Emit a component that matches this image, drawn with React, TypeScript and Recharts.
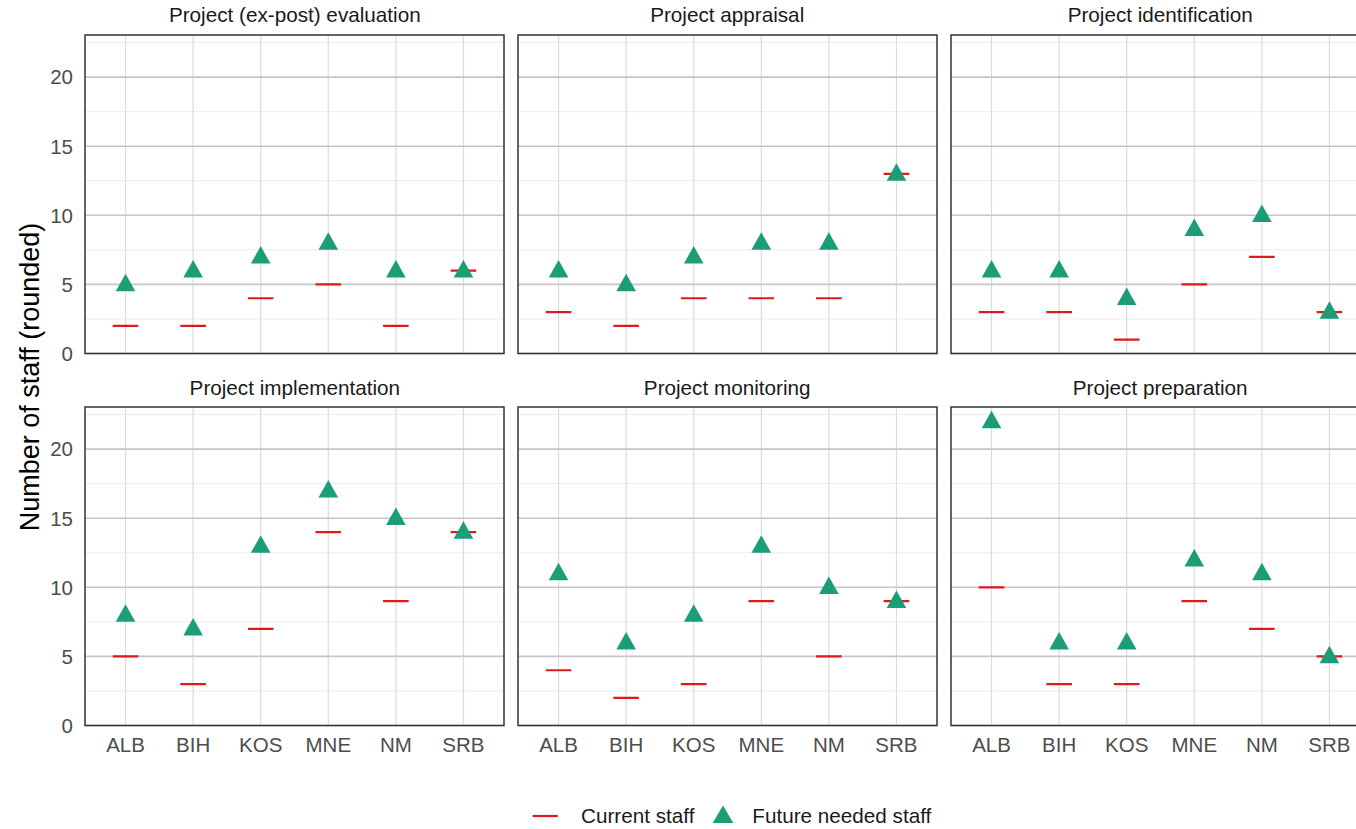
import { ScatterChart, Scatter, XAxis, YAxis, CartesianGrid, ReferenceArea } from "recharts";

const COUNTRIES = ["ALB", "BIH", "KOS", "MNE", "NM", "SRB"];
const Y_TICKS = [0, 5, 10, 15, 20];
const Y_MINOR = [2.5, 7.5, 12.5, 17.5, 22.5];

const evaluationCurrent = [2, 2, 4, 5, 2, 6];
const evaluationFuture = [5, 6, 7, 8, 6, 6];
const appraisalCurrent = [3, 2, 4, 4, 4, 13];
const appraisalFuture = [6, 5, 7, 8, 8, 13];
const identificationCurrent = [3, 3, 1, 5, 7, 3];
const identificationFuture = [6, 6, 4, 9, 10, 3];
const implementationCurrent = [5, 3, 7, 14, 9, 14];
const implementationFuture = [8, 7, 13, 17, 15, 14];
const monitoringCurrent = [4, 2, 3, 9, 5, 9];
const monitoringFuture = [11, 6, 8, 13, 10, 9];
const preparationCurrent = [10, 3, 3, 9, 7, 5];
const preparationFuture = [22, 6, 6, 12, 11, 5];

const PANELS = [
  { title: "Project (ex-post) evaluation", current: evaluationCurrent, future: evaluationFuture },
  { title: "Project appraisal", current: appraisalCurrent, future: appraisalFuture },
  { title: "Project identification", current: identificationCurrent, future: identificationFuture },
  { title: "Project implementation", current: implementationCurrent, future: implementationFuture },
  { title: "Project monitoring", current: monitoringCurrent, future: monitoringFuture },
  { title: "Project preparation", current: preparationCurrent, future: preparationFuture },
];

const RED = "#e0191c";
const GREEN = "#1b9e77";
const FONT = '"Liberation Sans", Arial, Helvetica, sans-serif';

const COL_LEFT = [85.3, 517.7, 950.7];
const ROW_TOP = [35, 407.3];
const PLOT_W = 419;
const PLOT_H = 318.5;
const Y_AXIS_W = 60;
const X_AXIS_H = 40;
const M_TOP = 10;
const M_RIGHT = 10;

const toPoints = (vals: number[]) => vals.map((v, i) => ({ x: i + 1, y: v }));

const Dash = (p: any) => (
  <line x1={p.cx - 12.8} x2={p.cx + 12.8} y1={p.cy} y2={p.cy} stroke={RED} strokeWidth={2.2} />
);

const Triangle = (p: any) => {
  const { cx, cy } = p;
  return (
    <polygon
      points={`${cx},${cy - 10.7} ${cx - 9.8},${cy + 6.8} ${cx + 9.8},${cy + 6.8}`}
      fill={GREEN}
    />
  );
};

const NoTick = () => <g />;

function Panel({ idx }: { idx: number }) {
  const panel = PANELS[idx];
  const col = idx % 3;
  const row = Math.floor(idx / 3);
  const showY = col === 0;
  const showX = row === 1;
  const tickStyle = { fill: "#4d4d4d", fontSize: 20.5, fontFamily: FONT };
  return (
    <div style={{ position: "absolute", left: COL_LEFT[col] - Y_AXIS_W, top: ROW_TOP[row] - M_TOP }}>
      <ScatterChart
        width={Y_AXIS_W + PLOT_W + M_RIGHT}
        height={M_TOP + PLOT_H + X_AXIS_H}
        margin={{ top: M_TOP, right: M_RIGHT, left: 0, bottom: 0 }}
      >
        <CartesianGrid vertical={false} horizontalValues={Y_MINOR} stroke="#ececec" strokeWidth={1} />
        <CartesianGrid horizontal={false} verticalValues={[1, 2, 3, 4, 5, 6]} stroke="#dcdcdc" strokeWidth={1.2} />
        <CartesianGrid vertical={false} horizontalValues={Y_TICKS} stroke="#c6c6c6" strokeWidth={1.6} />
        <XAxis
          type="number"
          dataKey="x"
          domain={[0.4, 6.6]}
          ticks={[1, 2, 3, 4, 5, 6]}
          allowDataOverflow
          height={X_AXIS_H}
          axisLine={false}
          tickLine={false}
          tickSize={0}
          tickMargin={12}
          interval={0}
          tickFormatter={(v: number) => COUNTRIES[v - 1]}
          tick={showX ? tickStyle : NoTick}
        />
        <YAxis
          type="number"
          dataKey="y"
          domain={[0, 23.05]}
          ticks={Y_TICKS}
          allowDataOverflow
          width={Y_AXIS_W}
          axisLine={false}
          tickLine={false}
          tickSize={0}
          tickMargin={12}
          interval={0}
          tick={showY ? tickStyle : NoTick}
        />
        <Scatter data={toPoints(panel.current)} shape={Dash} isAnimationActive={false} />
        <Scatter data={toPoints(panel.future)} shape={Triangle} isAnimationActive={false} />
        <ReferenceArea
          x1={0.4}
          x2={6.6}
          y1={0}
          y2={23.05}
          fill="none"
          stroke="#333333"
          strokeWidth={1.5}
          ifOverflow="visible"
        />
      </ScatterChart>
    </div>
  );
}

export default function App() {
  return (
    <div
      style={{
        position: "fixed",
        left: 0,
        top: 0,
        width: 1356,
        height: 829,
        overflow: "hidden",
        background: "#ffffff",
        fontFamily: FONT,
      }}
    >
      {PANELS.map((_, i) => (
        <Panel key={i} idx={i} />
      ))}
      <svg width={1356} height={829} style={{ position: "absolute", left: 0, top: 0, pointerEvents: "none" }}>
        {PANELS.map((p, i) => {
          const col = i % 3;
          const row = Math.floor(i / 3);
          return (
            <text
              key={p.title}
              x={COL_LEFT[col] + PLOT_W / 2}
              y={ROW_TOP[row] - 12.7}
              textAnchor="middle"
              fontSize={20.7}
              fill="#1a1a1a"
              fontFamily={FONT}
            >
              {p.title}
            </text>
          );
        })}
        <text
          transform="translate(38.8, 377) rotate(-90)"
          textAnchor="middle"
          fontSize={27}
          fill="#000000"
          fontFamily={FONT}
        >
          Number of staff (rounded)
        </text>
        <line x1={532.7} x2={557.7} y1={816} y2={816} stroke={RED} strokeWidth={2.2} />
        <text x={581} y={823.4} fontSize={20.7} fill="#1a1a1a" fontFamily={FONT}>
          Current staff
        </text>
        <polygon points="723,805.5 712.7,823 733.3,823" fill={GREEN} />
        <text x={752.3} y={823.4} fontSize={20.7} fill="#1a1a1a" fontFamily={FONT}>
          Future needed staff
        </text>
      </svg>
    </div>
  );
}
